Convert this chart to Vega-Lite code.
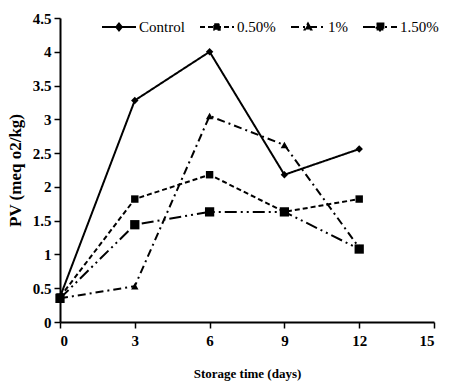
{
  "$schema": "https://vega.github.io/schema/vega-lite/v6.json",
  "width": 374,
  "height": 304,
  "autosize": "none",
  "padding": {"left": 60, "top": 18, "right": 17, "bottom": 61},
  "background": "white",
  "config": {
    "view": {"stroke": null},
    "font": "Liberation Serif",
    "axis": {"grid": false, "domainColor": "black", "domainWidth": 2, "tickColor": "black", "tickWidth": 1.5, "tickSize": 6,
      "labelFont": "Liberation Serif", "labelFontWeight": "bold", "labelFontSize": 15, "labelColor": "black",
      "titleFont": "Liberation Serif", "titleFontWeight": "bold", "titleColor": "black"},
    "legend": {"labelFont": "Liberation Serif", "labelColor": "black"}
  },
  "data": {"values": [
    {"day": 0, "t": "Control", "pv": 0.37}, {"day": 3, "t": "Control", "pv": 3.28}, {"day": 6, "t": "Control", "pv": 4.0}, {"day": 9, "t": "Control", "pv": 2.18}, {"day": 12, "t": "Control", "pv": 2.56},
    {"day": 0, "t": "0.50%", "pv": 0.37}, {"day": 3, "t": "0.50%", "pv": 1.82}, {"day": 6, "t": "0.50%", "pv": 2.18}, {"day": 9, "t": "0.50%", "pv": 1.63}, {"day": 12, "t": "0.50%", "pv": 1.82},
    {"day": 0, "t": "1%", "pv": 0.35}, {"day": 3, "t": "1%", "pv": 0.53}, {"day": 6, "t": "1%", "pv": 3.05}, {"day": 9, "t": "1%", "pv": 2.62}, {"day": 12, "t": "1%", "pv": 1.1},
    {"day": 0, "t": "1.50%", "pv": 0.35}, {"day": 3, "t": "1.50%", "pv": 1.44}, {"day": 6, "t": "1.50%", "pv": 1.63}, {"day": 9, "t": "1.50%", "pv": 1.63}, {"day": 12, "t": "1.50%", "pv": 1.08}
  ]},
  "encoding": {
    "x": {"field": "day", "type": "quantitative", "scale": {"domain": [0, 15], "nice": false}, "axis": {"values": [0, 3, 6, 9, 12, 15], "title": "Storage time (days)", "titleFontSize": 13, "titlePadding": 19, "labelPadding": 5}},
    "y": {"field": "pv", "type": "quantitative", "scale": {"domain": [0, 4.5], "nice": false}, "axis": {"values": [0, 0.5, 1, 1.5, 2, 2.5, 3, 3.5, 4, 4.5], "format": "~g", "title": "PV (meq o2/kg)", "titleFontSize": 17, "titlePadding": 8, "labelPadding": 3}}
  },
  "layer": [
    {
      "mark": {"type": "line", "color": "black", "strokeWidth": 2},
      "encoding": {
        "strokeDash": {"field": "t", "type": "nominal", "scale": {"domain": ["Control", "0.50%", "1%", "1.50%"], "range": [[1, 0], [5, 3], [8, 4, 2, 4], [12, 4, 2, 4, 2, 4]]},
          "legend": {"orient": "none", "legendX": 41, "legendY": -9, "direction": "horizontal", "title": null,
            "symbolType": "stroke", "symbolSize": 1156, "symbolStrokeWidth": 2, "symbolStrokeColor": "black", "symbolFillColor": "black",
            "labelFont": "Liberation Serif", "labelFontSize": 15, "labelOffset": 2, "columnPadding": 11,
            "encode": {"symbols": {"update": {
              "shape": {"signal": "datum.value === 'Control' ? 'M-1,0H1M0,-0.2L0.16,0L0,0.2L-0.16,0Z' : datum.value === '0.50%' ? 'M-1,0H1M-0.16,-0.16H0.16V0.16H-0.16Z' : datum.value === '1%' ? 'M-1,0H1M0,-0.2L0.19,0.14H-0.19Z' : 'M-1,0H1M-0.2,-0.2H0.2V0.2H-0.2Z'"},
              "fill": {"value": "black"},
              "stroke": {"value": "black"},
              "strokeWidth": {"value": 2}
            }}}}
        }
      }
    },
    {
      "mark": {"type": "point", "filled": true, "color": "black", "opacity": 1, "size": 55},
      "encoding": {
        "shape": {"field": "t", "type": "nominal", "scale": {"domain": ["1.50%", "1%", "0.50%", "Control"], "range": ["M-1.25,-1.25H1.25V1.25H-1.25Z", "triangle-up", "square", "diamond"]}, "legend": null}
      }
    }
  ]
}
